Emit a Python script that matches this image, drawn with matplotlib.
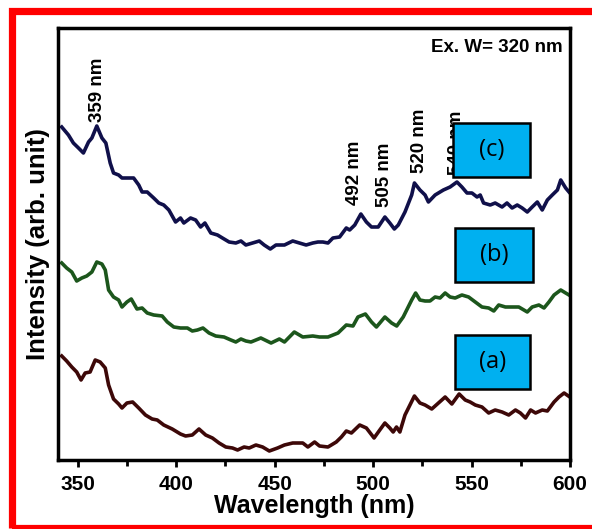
import matplotlib
matplotlib.use("Agg")
import matplotlib.pyplot as plt
from matplotlib.patches import Rectangle

# ---- data ----
wl_c = [341.9, 345.3, 347.8, 350.4, 352.9, 355.5, 357.2, 359.7, 362.3, 364.3, 366.5, 368.2,
        370.8, 372.5, 375.9, 378.4, 381, 382.7, 385.3, 388.6, 391.2, 393.7, 396.3, 399.7,
        402.2, 403.9, 407.3, 409.9, 412.4, 414.6, 417.6, 421, 423.5, 426.9, 430.3, 432.9,
        435.4, 438.8, 442.2, 444.7, 447.8, 450.7, 455, 459.2, 462.6, 466, 469.4, 472, 474.5,
        477.1, 479.6, 483, 486.4, 488.1, 490.7, 493.8, 496.6, 499.2, 502.6, 506, 508.5,
        510.8, 512.8, 516.2, 519.6, 521, 523.8, 526.4, 528.1, 531.5, 535.7, 539.1, 542.6,
        545.1, 547.7, 550.2, 552.8, 554.4, 556.1, 559.5, 562, 565.5, 568, 570.6, 573.2,
        575.7, 578.3, 580.8, 583.4, 585.9, 588.5, 591, 593.6, 595.3, 597.8, 599.5]
int_c = [333, 325, 317, 312, 307, 318, 322, 334, 322, 317, 297, 287,
         285, 282, 282, 282, 275, 268, 268, 262, 257, 255, 250, 238,
         242, 237, 242, 240, 233, 237, 227, 225, 222, 218, 217, 219,
         215, 217, 219, 215, 211, 215, 215, 219, 217, 215, 217, 218, 218,
         217, 222, 223, 232, 230, 235, 246, 238, 233, 233, 243, 237,
         231, 235, 248, 265, 277, 270, 265, 258, 265, 270, 273, 278,
         273, 267, 267, 263, 265, 257, 255, 257, 253, 257, 252, 255,
         252, 248, 253, 258, 250, 260, 265, 270, 280, 272, 268]

wl_b = [341.9, 344.4, 347, 349.5, 352.1, 354.6, 357.2, 359.7, 362.3, 364, 365.7, 368.2,
        370.8, 372.5, 375, 377.2, 380.1, 382.7, 385.3, 388.6, 392.9, 395.5, 398.8, 402.2,
        405.7, 408.2, 410.8, 413.6, 416.7, 420.1, 424.3, 427.8, 430.3, 432.9, 435.4, 438,
        443, 448.2, 452.4, 455, 460, 464.3, 469.4, 472.8, 477.1, 482.2, 486.4, 489.8,
        492.3, 496.1, 499.2, 501.7, 506, 509.4, 512, 515.3, 519.6, 521.6, 523.8, 526.4,
        528.9, 531.5, 534, 536.6, 539.1, 541.7, 545.1, 548.5, 551.9, 555.3, 558.7, 561.3,
        563.8, 567.2, 570.6, 574, 578.3, 580.8, 584.2, 586.8, 589.3, 591.9, 595.3, 597.8,
        599.5]
int_b = [197, 192, 188, 179, 182, 184, 188, 198, 196, 190, 170, 163,
         160, 153, 158, 161, 151, 152, 147, 145, 144, 138, 133, 132,
         132, 129, 130, 132, 127, 124, 123, 120, 118, 121, 119, 118,
         122, 117, 121, 118, 128, 123, 124, 123, 123, 127, 135, 134,
         143, 146, 138, 133, 143, 137, 134, 143, 160, 167, 160, 159,
         159, 163, 162, 167, 163, 162, 165, 163, 158, 153, 152, 149,
         155, 153, 153, 153, 148, 153, 155, 152, 158, 165, 170, 167,
         165]

wl_a = [341.9, 344.4, 347, 349.5, 351.7, 353.8, 356.3, 358.9, 361.4, 364, 365.7, 368.2,
        370.8, 372.5, 375, 377.9, 381, 384.4, 387.8, 390.4, 393.7, 398, 402.2, 404.8,
        408.2, 411.6, 415, 418.4, 421.8, 425.2, 428.6, 431.2, 434.5, 437.1, 440.5, 443.9,
        447.3, 451.5, 455, 459.2, 464.3, 466.9, 470.3, 472.8, 477.1, 481.3, 483.9, 486.4,
        489, 493.2, 496.6, 500.5, 503.4, 506, 508.5, 510.2, 511.9, 513.6, 516.2, 521,
        523.8, 526.4, 529.8, 533.2, 536.6, 540, 543.7, 546.8, 549.3, 551.9, 555.3, 558.7,
        562, 565.5, 568.9, 572.3, 574.8, 577.4, 580, 582.5, 585.9, 588.5, 591.9, 594.4,
        597, 599.9]
int_a = [104, 99, 93, 88, 80, 87, 88, 100, 98, 92, 75, 61,
         56, 52, 57, 58, 52, 45, 41, 40, 35, 31, 26, 24,
         25, 31, 25, 22, 17, 13, 12, 10, 13, 12, 15, 13,
         9, 12, 15, 17, 17, 13, 18, 14, 13, 18, 23, 29,
         27, 35, 32, 22, 30, 37, 32, 28, 33, 28, 45, 64,
         57, 55, 51, 57, 63, 56, 66, 60, 58, 55, 53, 47,
         50, 48, 45, 50, 47, 42, 50, 47, 50, 49, 58, 63,
         67, 63]

x_ticks = [350, 400, 450, 500, 550, 600]
peak_labels = ["359 nm", "492 nm", "505 nm", "520 nm", "540 nm"]
peak_x = [360, 490.5, 506, 523.5, 542.5]
peak_y = [338, 255, 253, 287, 285]
box_labels = ["(c)", "(b)", "(a)"]

# ---- figure ----
W, H = 592, 529
fig = plt.figure(figsize=(W / 100, H / 100), dpi=100)
plt.rcParams['font.family'] = ['Liberation Sans', 'DejaVu Sans']

ax = fig.add_axes([58 / W, (H - 460) / H, (570 - 58) / W, (460 - 28) / H])
lw = 2.6
ax.plot(wl_c, int_c, color='#10104a', lw=lw, solid_joinstyle='round')
ax.plot(wl_b, int_b, color='#1c561c', lw=lw, solid_joinstyle='round')
ax.plot(wl_a, int_a, color='#3d0808', lw=lw, solid_joinstyle='round')

ax.set_xlim(340, 600)
ax.set_ylim(0, 432)
ax.set_xticks(x_ticks)
ax.set_xticklabels([str(t) for t in x_ticks], fontsize=15, fontweight='bold')
ax.set_xticks([375, 425, 475, 525, 575], minor=True)
ax.set_yticks([])
ax.tick_params(axis='x', which='major', direction='out', length=5, width=2, pad=6)
ax.tick_params(axis='x', which='minor', direction='out', length=4, width=2)
for s in ax.spines.values():
    s.set_linewidth(2.5)

ax.set_xlabel("Wavelength (nm)", fontsize=18, fontweight='bold', labelpad=0)
ax.set_ylabel("Intensity (arb. unit)", fontsize=18.5, fontweight='bold', labelpad=6)

for lab, x, y in zip(peak_labels, peak_x, peak_y):
    ax.text(x, y, lab, rotation=90, ha='center', va='bottom', fontsize=13.5,
            fontweight='bold', zorder=3)

ax.text(0.985, 0.955, "Ex. W= 320 nm", transform=ax.transAxes, ha='right', va='center',
        fontsize=13.5, fontweight='bold')

# label boxes (pixel positions)
boxes = [(453, 123, 530, 177), (455, 228, 533, 282), (455, 335, 530, 389)]
for lab, (x0, y0, x1, y1) in zip(box_labels, boxes):
    r = Rectangle((x0 / W, (H - y1) / H), (x1 - x0) / W, (y1 - y0) / H,
                  transform=fig.transFigure, facecolor='#00b0f0', edgecolor='black',
                  lw=1.8, zorder=10)
    fig.add_artist(r)
    fig.text((x0 + x1) / 2 / W, (H - (y0 + y1) / 2) / H, lab, ha='center', va='center',
             fontsize=17, family=['Open Sans', 'DejaVu Sans'], zorder=11)

# red frame
frame = Rectangle((11.5 / W, (H - 528) / H), 1.2, (528 - 11) / H, transform=fig.transFigure,
                  facecolor='none', edgecolor='#ff0000', lw=5.2, zorder=20, clip_on=False)
fig.add_artist(frame)

fig.savefig("out.png", dpi=100)
